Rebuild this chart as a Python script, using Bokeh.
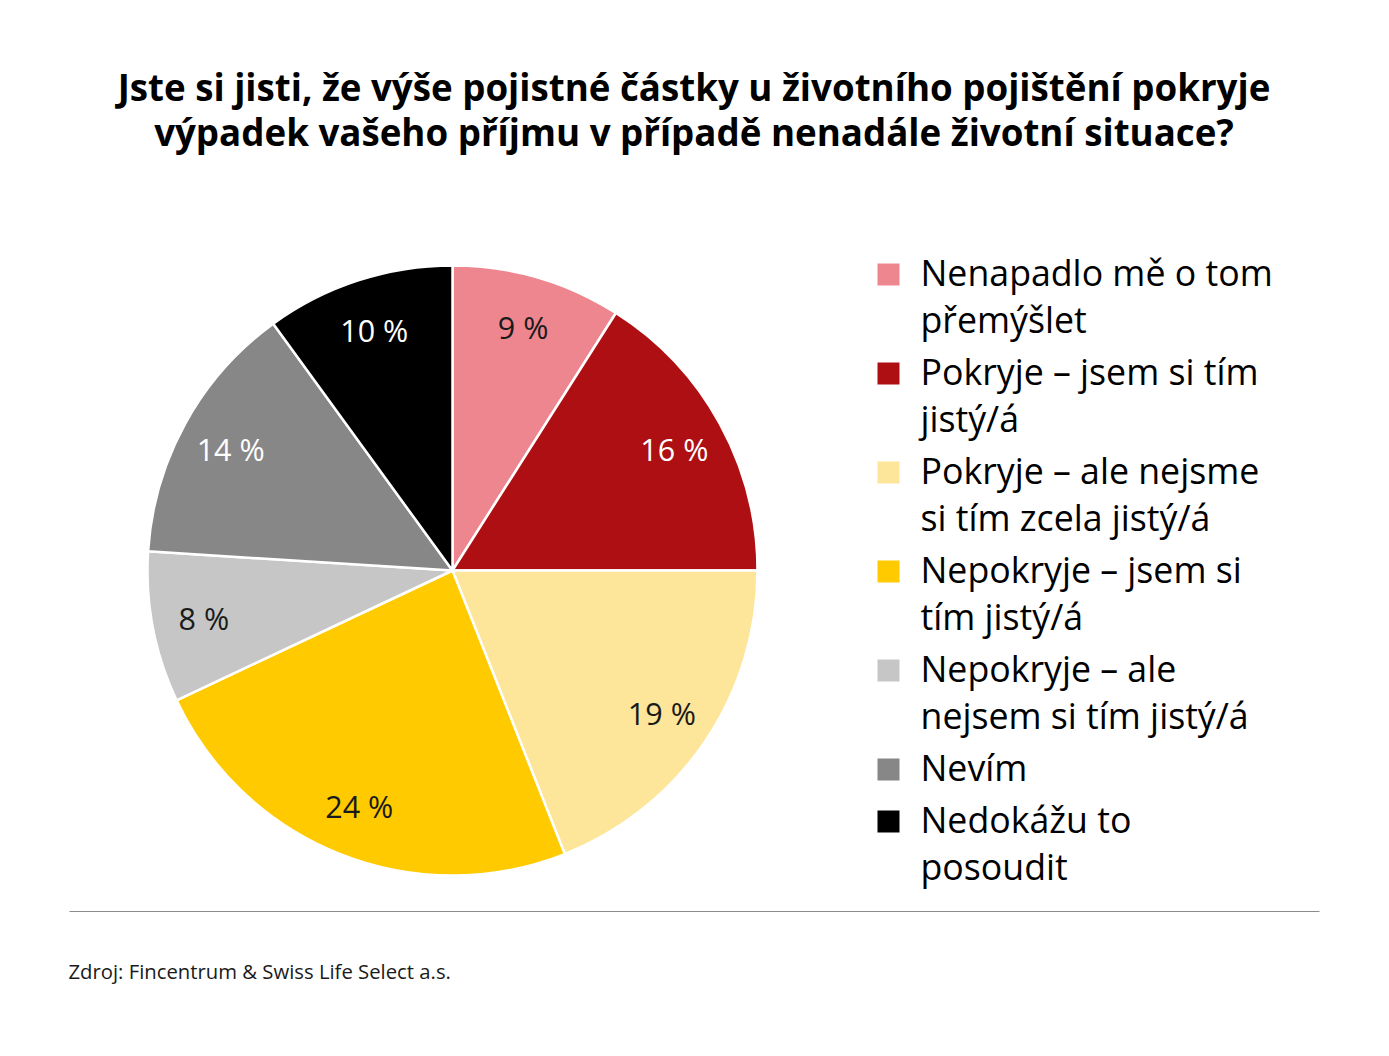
import math

from bokeh.plotting import figure
from bokeh.models import Range1d
from bokeh.core.properties import value
from bokeh.embed import file_html
from bokeh.resources import INLINE

# --- data -------------------------------------------------------------
categories = [
    "Nenapadlo mě o tom\npřemýšlet",
    "Pokryje – jsem si tím\njistý/á",
    "Pokryje – ale nejsme\nsi tím zcela jistý/á",
    "Nepokryje – jsem si\ntím jistý/á",
    "Nepokryje – ale\nnejsem si tím jistý/á",
    "Nevím",
    "Nedokážu to\nposoudit",
]
shares = [9, 16, 19, 24, 8, 14, 10]
colors = ["#EE8690", "#AE0F12", "#FDE599", "#FFCB00", "#C6C6C6", "#878787", "#000000"]
label_colors = ["#1a1a1a", "#ffffff", "#1a1a1a", "#1a1a1a", "#1a1a1a", "#ffffff", "#ffffff"]

title_lines = [
    "Jste si jisti, že výše pojistné částky u životního pojištění pokryje",
    "výpadek vašeho příjmu v případě nenadále životní situace?",
]
source = "Zdroj: Fincentrum & Swiss Life Select a.s."

# --- canvas -------------------------------------------------------------
W, H = 1389, 1056
FONT = "Open Sans"

p = figure(width=W, height=H, x_range=Range1d(0, W), y_range=Range1d(0, H),
           output_backend="svg", toolbar_location=None, min_border=0)
p.axis.visible = False
p.grid.visible = False
p.outline_line_color = None
p.background_fill_color = "white"
p.border_fill_color = "white"


def Y(v):
    # convert a top-down page position to the upward data axis
    return H - v


# --- title ---------------------------------------------------------------
p.text(x=[W / 2 - 1] * len(title_lines), y=[Y(86), Y(131)], text=title_lines,
       text_font=value(FONT), text_font_style="bold", text_font_size="36.7px",
       text_align="center", text_baseline="middle", text_color="#000000")

# --- pie -----------------------------------------------------------------
cx, cy, R = 452, Y(570), 305
total = float(sum(shares))
starts, ends, mids = [], [], []
cum = 0.0
for s in shares:
    a0 = math.pi / 2 - 2 * math.pi * cum / total
    cum += s
    a1 = math.pi / 2 - 2 * math.pi * cum / total
    starts.append(a0)
    ends.append(a1)
    mids.append((a0 + a1) / 2)

p.wedge(x=[cx] * len(shares), y=[cy] * len(shares), radius=R,
        start_angle=starts, end_angle=ends, direction="clock",
        fill_color=colors, line_color="white", line_width=2.5)

lr = 0.83 * R
p.text(x=[cx + lr * math.cos(m) for m in mids],
       y=[cy + lr * math.sin(m) for m in mids],
       text=[f"{s} %" for s in shares], text_color=label_colors,
       text_font=value(FONT), text_font_size="30.5px",
       text_align="center", text_baseline="middle")

# --- legend ----------------------------------------------------------------
line_h = 47
item_gap = 5
lx_box, lx_text = 888, 920
y0 = 271
sq_x, sq_y, sq_c = [], [], []
tx, ty, tt = [], [], []
yy = y0
for cat, col in zip(categories, colors):
    lines = cat.split("\n")
    sq_x.append(lx_box)
    sq_y.append(Y(yy + 3))
    sq_c.append(col)
    for k, ln in enumerate(lines):
        tx.append(lx_text)
        ty.append(Y(yy + k * line_h))
        tt.append(ln)
    yy += len(lines) * line_h + item_gap

p.scatter(x=sq_x, y=sq_y, marker="square", size=22, fill_color=sq_c, line_color=None)
p.text(x=tx, y=ty, text=tt, text_font=value(FONT), text_font_size="35.7px",
       text_align="left", text_baseline="middle", text_color="#000000")

# --- footer ----------------------------------------------------------------
p.line(x=[69, 1319], y=[Y(911), Y(911)], line_color="#8c8c8c", line_width=1.2)
p.text(x=[68], y=[Y(970)], text=[source], text_font=value(FONT),
       text_font_size="20.3px", text_align="left", text_baseline="middle",
       text_color="#1a1a1a")

open("out.html", "w").write(file_html(p, INLINE))
